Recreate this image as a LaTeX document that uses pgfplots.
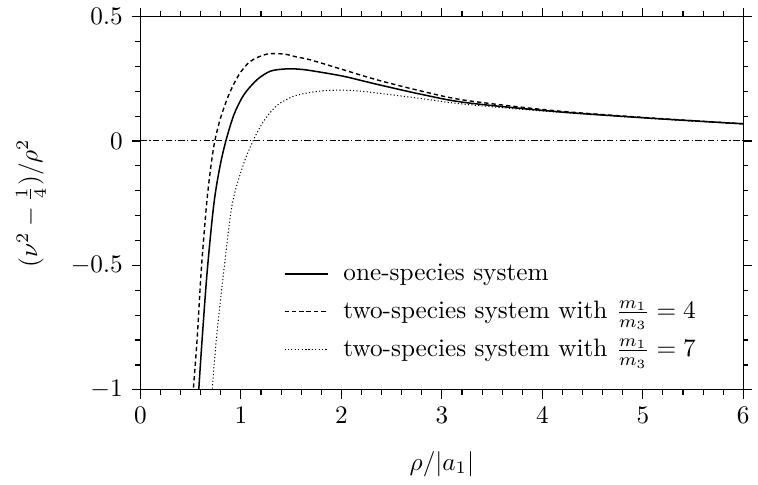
\documentclass[border=0pt]{standalone}
\usepackage{pgfplots}
\pgfplotsset{compat=1.18}
\begin{document}
\begin{tikzpicture}
\begin{axis}[
  width=239pt, height=148pt, scale only axis,
  xmin=0, xmax=6, ymin=-1, ymax=0.5,
  xtick={0,1,2,3,4,5,6},
  ytick={-1,-0.5,0,0.5},
  minor x tick num=4,
  minor y tick num=4,
  tick align=outside,
  major tick length=3.5pt,
  minor tick length=2pt,
  tick style={black, line width=0.45pt},
  axis line style={line width=0.45pt},
  xlabel={$\rho/|a_1|$},
  ylabel={$(\nu^2-\frac{1}{4})/\rho^2$},
  xlabel style={yshift=-4pt},
  ylabel style={yshift=3pt},
  legend style={draw=none, fill=none, at={(rel axis cs:0.943,0.05)}, anchor=south east,
    row sep=2.5pt, column sep=4pt, legend cell align=left, font=\normalsize},
  clip=true,
]
\addplot[black, line width=0.6pt, smooth] coordinates {
  (0.57,-1.05) (0.58,-1.0) (0.615,-0.79) (0.665,-0.52) (0.73,-0.255) (0.79,-0.105)
  (0.85,0.0) (0.93,0.105) (1.03,0.186) (1.16,0.246) (1.29,0.28) (1.43,0.289)
  (1.56,0.289) (1.69,0.283) (2.02,0.26) (2.35,0.228) (2.8,0.187) (3.24,0.154)
  (4.14,0.118) (5.13,0.09) (6,0.069)
};
\addlegendentry{one-species system}
\addplot[black, line width=0.55pt, dash pattern=on 1.7pt off 1.2pt, smooth] coordinates {
  (0.518,-1.05) (0.526,-1.0) (0.565,-0.79) (0.605,-0.52) (0.658,-0.255) (0.70,-0.105)
  (0.74,0.0) (0.797,0.092) (0.88,0.186) (0.98,0.266) (1.094,0.32) (1.26,0.349)
  (1.43,0.349) (1.56,0.337) (1.69,0.326) (2.02,0.286) (2.35,0.246) (2.8,0.2)
  (3.24,0.163) (4.14,0.121) (5.13,0.091) (6,0.069)
};
\addlegendentry{two-species system with $\frac{m_1}{m_3}=4$}
\addplot[black, line width=0.4pt, dash pattern=on 0.45pt off 0.9pt, smooth] coordinates {
  (0.705,-1.05) (0.714,-1.0) (0.757,-0.79) (0.83,-0.52) (0.913,-0.255) (1.02,-0.1)
  (1.12,0.0) (1.23,0.082) (1.36,0.143) (1.52,0.179) (1.69,0.195) (1.86,0.203)
  (2.09,0.203) (2.35,0.193) (2.8,0.17) (3.24,0.147) (4.14,0.116) (5.13,0.089) (6,0.068)
};
\addlegendentry{two-species system with $\frac{m_1}{m_3}=7$}
\addplot[black, line width=0.4pt, dash pattern=on 2.5pt off 1pt on 0.5pt off 1pt, forget plot]
  coordinates {(0,0) (6,0)};
\end{axis}
\path ([xshift=-3pt]current bounding box.west) -- (current bounding box.east);
\end{tikzpicture}
\end{document}
